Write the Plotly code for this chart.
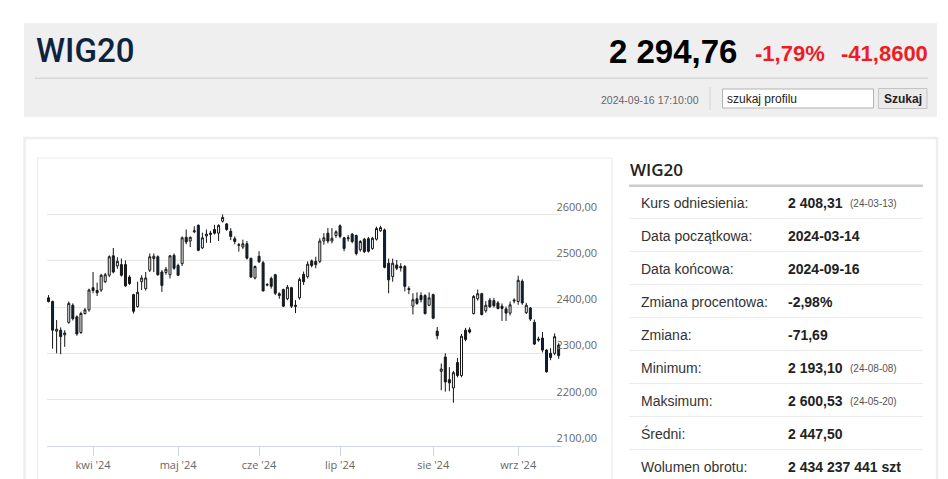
import pandas as pd
import plotly.graph_objects as go

# ---------------- data ----------------
holidays = ["2024-03-29", "2024-04-01", "2024-05-01", "2024-05-03", "2024-05-30", "2024-08-15"]
dates = [d.strftime("%Y-%m-%d") for d in pd.bdate_range("2024-03-14", "2024-09-16")
         if d.strftime("%Y-%m-%d") not in holidays]

opens = [2420, 2412, 2348, 2350, 2340, 2367, 2404, 2379, 2345, 2386,
         2394, 2442, 2436, 2437, 2455, 2469, 2511, 2489, 2492, 2492,
         2465, 2427, 2401, 2455, 2440, 2480, 2505, 2509, 2476, 2475,
         2470, 2512, 2490, 2494, 2551, 2543, 2563, 2577, 2528, 2554,
         2557, 2568, 2560, 2586, 2580, 2564, 2548, 2535, 2530, 2537,
         2506, 2463, 2510, 2496, 2449, 2462, 2470, 2425, 2438, 2418,
         2442, 2404, 2420, 2471, 2466, 2500, 2499, 2499, 2543, 2560,
         2543, 2555, 2576, 2550, 2548, 2558, 2555, 2524, 2547, 2548,
         2527, 2547, 2565, 2567, 2495, 2466, 2491, 2488, 2488, 2440,
         2402, 2418, 2425, 2425, 2404, 2427, 2348, 2261, 2292, 2243,
         2225, 2280, 2252, 2350, 2351, 2386, 2418, 2429, 2392, 2415,
         2414, 2409, 2402, 2396, 2387, 2413, 2412, 2456, 2388, 2398,
         2367, 2331, 2333, 2307, 2300, 2300, 2318]
highs = [2426, 2414, 2372, 2356, 2350, 2412, 2408, 2382, 2390, 2398,
         2440, 2476, 2453, 2472, 2474, 2512, 2528, 2508, 2505, 2501,
         2469, 2429, 2455, 2469, 2476, 2516, 2516, 2512, 2480, 2487,
         2513, 2516, 2494, 2553, 2568, 2553, 2575, 2579, 2561, 2568,
         2565, 2578, 2579, 2600.5, 2582, 2571, 2553, 2539, 2546, 2543,
         2506, 2490, 2521, 2500, 2452, 2466, 2472, 2432, 2440, 2448,
         2444, 2415, 2464, 2477, 2499, 2503, 2509, 2549, 2560, 2571,
         2571, 2566, 2579, 2552, 2556, 2560, 2557, 2545, 2550, 2552,
         2552, 2574, 2576, 2570, 2505, 2505, 2502, 2495, 2491, 2445,
         2430, 2432, 2432, 2428, 2432, 2429, 2357, 2278, 2300, 2270,
         2262, 2290, 2342, 2355, 2356, 2426, 2438, 2431, 2413, 2420,
         2420, 2413, 2408, 2401, 2412, 2419, 2468, 2460, 2409, 2400,
         2373, 2336, 2346, 2309, 2311, 2343, 2322]
lows = [2410, 2310, 2300, 2298, 2314, 2364, 2371, 2338, 2342, 2384,
        2390, 2430, 2424, 2433, 2452, 2465, 2473, 2483, 2466, 2444,
        2448, 2386, 2399, 2437, 2436, 2476, 2476, 2468, 2433, 2470,
        2462, 2481, 2467, 2489, 2536, 2530, 2560, 2521, 2526, 2539,
        2539, 2557, 2543, 2583, 2565, 2545, 2536, 2520, 2526, 2503,
        2463, 2460, 2496, 2434, 2445, 2440, 2426, 2418, 2400, 2415,
        2398, 2387, 2416, 2448, 2462, 2486, 2484, 2495, 2535, 2538,
        2538, 2550, 2549, 2521, 2542, 2538, 2512, 2520, 2517, 2518,
        2524, 2544, 2563, 2484, 2430, 2455, 2480, 2477, 2434, 2428,
        2384, 2405, 2410, 2384, 2402, 2374, 2330, 2220, 2217, 2218,
        2193, 2248, 2248, 2326, 2343, 2384, 2414, 2382, 2388, 2398,
        2399, 2395, 2370, 2370, 2382, 2408, 2405, 2405, 2385, 2370,
        2318, 2325, 2302, 2258, 2285, 2296, 2288]
closes = [2412, 2350, 2352, 2336, 2344, 2408, 2375, 2342, 2386, 2394,
          2437, 2436, 2431, 2469, 2470, 2509, 2476, 2499, 2469, 2446,
          2451, 2391, 2432, 2463, 2463, 2509, 2510, 2470, 2447, 2482,
          2511, 2484, 2469, 2550, 2541, 2551, 2565, 2523, 2550, 2558,
          2560, 2560, 2577, 2594, 2568, 2553, 2542, 2534, 2537, 2506,
          2465, 2488, 2498, 2435, 2448, 2445, 2430, 2429, 2402, 2443,
          2402, 2402, 2460, 2455, 2493, 2490, 2492, 2543, 2550, 2543,
          2549, 2563, 2553, 2527, 2550, 2542, 2516, 2542, 2520, 2521,
          2549, 2570, 2572, 2486, 2459, 2495, 2484, 2485, 2445, 2438,
          2416, 2408, 2416, 2386, 2420, 2376, 2338, 2266, 2238, 2236,
          2258, 2252, 2337, 2330, 2346, 2423, 2429, 2384, 2404, 2401,
          2403, 2397, 2397, 2387, 2405, 2415, 2458, 2409, 2404, 2374,
          2320, 2329, 2307, 2260, 2291, 2336, 2295]

month_ticks = ["2024-04-02", "2024-05-02", "2024-06-03", "2024-07-01", "2024-08-01", "2024-09-02"]
month_labels = ["kwi '24", "maj '24", "cze '24", "lip '24", "sie '24", "wrz '24"]
price_ticks = [2100, 2200, 2300, 2400, 2500, 2600, 2700]
price_labels = ["2100,00", "2200,00", "2300,00", "2400,00", "2500,00", "2600,00", ""]

title = "WIG20"
last_price = "2 294,76"
change_pct = "-1,79%"
change_abs = "-41,8600"
timestamp = "2024-09-16 17:10:00"
search_placeholder = "szukaj profilu"
search_button = "Szukaj"

stat_labels = ["Kurs odniesienia:", "Data początkowa:", "Data końcowa:", "Zmiana procentowa:",
               "Zmiana:", "Minimum:", "Maksimum:", "Średni:", "Wolumen obrotu:"]
stat_values = ["2 408,31", "2024-03-14", "2024-09-16", "-2,98%", "-71,69",
               "2 193,10", "2 600,53", "2 447,50", "2 434 237 441 szt"]
stat_notes = ["(24-03-13)", "", "", "", "", "(24-08-08)", "(24-05-20)", "", ""]

# ---------------- figure ----------------
# the page body has an 8px margin, so the figure starts at page pixel (8, 8)
OFF = 8
W, H = 940, 471


def X(px):
    return (px - OFF) / W


def Y(py):
    return 1 - (py - OFF) / H


fig = go.Figure()
fig.add_trace(go.Candlestick(
    x=dates, open=opens, high=highs, low=lows, close=closes,
    increasing=dict(line=dict(color="#151515", width=1), fillcolor="#ffffff"),
    decreasing=dict(line=dict(color="#151515", width=1), fillcolor="#0d233a"),
    whiskerwidth=0, showlegend=False, hoverinfo="x+y",
))

shapes = []


def rect(x0, y0, x1, y1, fill=None, line=None, lw=0, layer="below"):
    shapes.append(dict(type="rect", xref="paper", yref="paper",
                       x0=X(x0), x1=X(x1), y0=Y(y1), y1=Y(y0),
                       fillcolor=fill if fill else "rgba(0,0,0,0)",
                       line=dict(color=line if line else "rgba(0,0,0,0)", width=lw),
                       layer=layer))


def hline(x0, x1, y, color, lw):
    shapes.append(dict(type="line", xref="paper", yref="paper",
                       x0=X(x0), x1=X(x1), y0=Y(y), y1=Y(y),
                       line=dict(color=color, width=lw), layer="below"))


def vline(x, y0, y1, color, lw):
    shapes.append(dict(type="line", xref="paper", yref="paper",
                       x0=X(x), x1=X(x), y0=Y(y0), y1=Y(y1),
                       line=dict(color=color, width=lw), layer="below"))


# header
rect(24, 23, 937, 117, fill="#efefef")
hline(35, 928, 78.3, "#d6d6d6", 1.5)
vline(710, 87, 110, "#d3d3d3", 1)
rect(722.5, 89, 873.5, 108, fill="#ffffff", line="#b3b3b3", lw=1)
rect(878.5, 88.5, 927, 108.5, fill="#eaeaea", line="#c4c4c4", lw=1)
# lower panels
rect(24.5, 138, 937, 500, line="#eeeeee", lw=2.5)
rect(37.5, 158, 612, 500, line="#ebebeb", lw=1)
# stats table lines
hline(629, 923, 185.7, "#cccccc", 2.5)
for k in range(8):
    hline(629, 923, 218.5 + 33 * k, "#ececec", 1)

ann = []


def text(x, y, s, size, color, family="Liberation Sans, Arial, sans-serif", weight="normal", anchor="left"):
    ann.append(dict(xref="paper", yref="paper", x=X(x), y=Y(y), text=s, showarrow=False,
                    xanchor=anchor, yanchor="middle",
                    font=dict(size=size, color=color, family=family, weight=weight)))


text(34, 51, title, 33, "#0d2340", family="Roboto, Liberation Sans, sans-serif", weight=500)
text(739, 52, last_price, 33, "#000000", weight="bold", anchor="right")
text(753, 54, change_pct, 22, "#ee1c25", weight="bold")
text(839, 54, change_abs, 22, "#ee1c25", weight="bold")
text(701, 99.5, timestamp, 10.5, "#666666", anchor="right")
text(725, 99, search_placeholder, 12, "#222222")
text(902.7, 99, search_button, 12, "#222222", weight="bold", anchor="center")

text(628, 170, title, 17, "#222222", family="Open Sans, sans-serif", weight=600)
for k, (lab, val, note) in enumerate(zip(stat_labels, stat_values, stat_notes)):
    yy = 202.5 + 33 * k
    text(638.5, yy, lab, 14, "#333333")
    text(785.5, yy, val, 14, "#222222", weight="bold")
    if note:
        text(847.5, yy + 0.5, note, 10, "#555555")

fig.update_layout(
    width=W, height=H,
    margin=dict(l=0, r=0, t=0, b=0, pad=0),
    paper_bgcolor="#ffffff", plot_bgcolor="rgba(0,0,0,0)",
    shapes=shapes, annotations=ann,
    showlegend=False,
    xaxis=dict(
        type="category",
        domain=[X(46.5), X(560.5)],
        range=[-0.5, 126.45],
        rangeslider=dict(visible=False),
        tickmode="array", tickvals=month_ticks, ticktext=month_labels,
        ticks="outside", ticklen=9, tickcolor="#ccd6eb", tickwidth=1,
        showline=True, linecolor="#ccd6eb", linewidth=1,
        showgrid=False, zeroline=False, automargin=False,
        tickfont=dict(family="Open Sans, sans-serif", size=11, color="#666666"),
        fixedrange=True,
    ),
    yaxis=dict(
        domain=[Y(445.7), Y(168.5)],
        range=[2100, 2700],
        side="right",
        tickmode="array", tickvals=price_ticks, ticktext=price_labels,
        ticks="", ticklabelposition="outside top", ticklabelstandoff=-5,
        showgrid=True, gridcolor="#e6e6e6", gridwidth=1,
        showline=False, zeroline=False, automargin=False,
        tickfont=dict(family="Open Sans, sans-serif", size=11, color="#666666"),
        fixedrange=True,
    ),
)

fig.write_html("out.html", config={"displayModeBar": False})
